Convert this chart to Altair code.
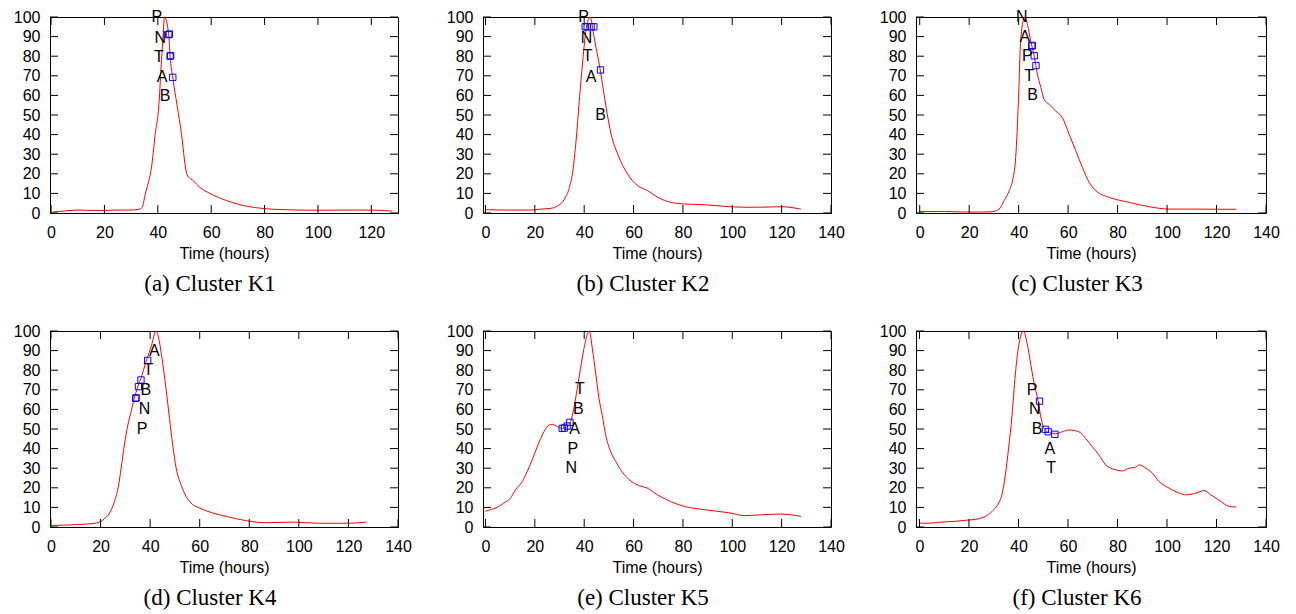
import altair as alt
import pandas as pd

# ---------------- data ----------------
K1_T = [0.5, 5, 10, 15, 20, 25, 30, 32.6, 34.2, 34.8, 35.3, 36.3, 37.6, 39, 40.5, 41.2, 42, 42.5,
        44.1, 44.6, 45.6, 47.2, 48.9, 50.4, 51.0, 53.3, 55.8, 59.5, 65.8, 70.8, 78, 87, 100, 110, 118, 127.8]
K1_V = [0.5, 1.0, 1.5, 1.3, 1.3, 1.5, 1.5, 1.8, 3, 6.3, 9.7, 14.7, 23, 40, 57, 74, 91, 100,
        91, 80, 69, 55, 40, 23, 19.5, 16.4, 13, 10, 6.3, 4.2, 2.5, 1.7, 1.4, 1.5, 1.5, 1.0]
K1_MT = [44.1, 44.3, 44.6, 44.8, 45.6]
K1_MV = [91.0, 91.3, 80.0, 80.3, 69.2]
K1_LAB = ["P", "N", "T", "A", "B"]
K1_LT = [39.6, 40.9, 40.4, 41.6, 42.7]
K1_LV = [100, 89.5, 79.8, 69.5, 59.8]

K2_T = [0.3, 10, 18.5, 22.5, 26.6, 29.3, 32, 34, 35.4, 36.7, 38, 39.4, 40.8, 42.4, 44.1, 46.5, 48.9,
        50.9, 53.6, 57.6, 61.7, 65.7, 69.8, 75.2, 80.6, 89, 96.8, 106, 113, 119.8, 127.8]
K2_V = [1.7, 1.5, 1.5, 2, 2.4, 3.7, 7.1, 13, 21.5, 36.8, 57, 77.5, 94, 100, 89, 73, 53.7,
        40.2, 30, 19.8, 13.9, 11.4, 8, 5.4, 4.6, 4.2, 3.4, 2.9, 3.0, 3.2, 2.0]
K2_MT = [40.4, 41.2, 42.8, 43.9, 46.6]
K2_MV = [95, 95, 95, 95, 73]
K2_LAB = ["P", "N", "T", "A", "B"]
K2_LT = [39.8, 40.9, 41.4, 42.8, 46.6]
K2_LV = [100, 89.5, 80, 69.5, 50]

K3_T = [0, 10, 17.3, 25, 29.4, 32.1, 34.1, 36.2, 37.5, 38.8, 39.9, 40.8, 42.2, 42.5, 43.6, 44.9, 46.3,
        47.6, 49, 50.3, 52.3, 55, 57.7, 60.4, 63.1, 65.8, 68.5, 71.2, 76.6, 84.7, 92.8, 100.9, 111.7, 119.8, 127.9]
K3_V = [0.7, 0.8, 0.5, 0.5, 0.7, 2, 6.3, 11.4, 16.4, 28.3, 57, 87.6, 99.5, 100, 96, 87.6, 80,
        70.7, 64, 58, 55.4, 52, 48.6, 40.2, 31.7, 23.2, 15.6, 11.4, 8, 5.4, 3.2, 2, 2, 1.9, 1.9]
K3_MT = [45.3, 45.5, 46.3, 47.0]
K3_MV = [85.2, 85.5, 80.2, 75.2]
K3_LAB = ["N", "A", "P", "T", "B"]
K3_LT = [41.3, 42.5, 43.5, 44.2, 45.6]
K3_LV = [100, 90, 80, 70, 60]

K4_T = [0.4, 10, 18.2, 20.2, 21.5, 23.6, 25.6, 27.3, 28.3, 29.6, 31, 32.3, 33.6, 35, 36.3, 38.3, 40.4,
        42.4, 43.5, 44.8, 46.4, 47.8, 49.1, 50.5, 52.5, 54.5, 57.2, 59.9, 65.3, 70.7, 78.8, 86.8, 97.6,
        108.4, 119.1, 127.2]
K4_V = [0.8, 1.2, 2, 2.9, 4.2, 7.1, 13, 21.5, 30, 41.9, 52, 58.8, 65.6, 71.5, 75.8, 84.2, 91.9,
        100, 96, 85.9, 70.7, 55.4, 41.9, 30, 21.5, 15.6, 11.4, 9.7, 7.1, 5.4, 3.2, 2.2, 2.5,
        1.9, 1.9, 2.5]
K4_MT = [39.0, 36.3, 35.3, 34.2, 34.3]
K4_MV = [85.0, 75.0, 71.6, 65.6, 65.9]
K4_LAB = ["A", "T", "B", "N", "P"]
K4_LT = [41.7, 39.3, 38.3, 37.7, 36.7]
K4_LV = [90, 80, 70, 60, 50]

K5_T = [0, 2, 4.7, 7.4, 10.1, 12.2, 14.9, 16.9, 18.9, 21, 23.7, 25.7, 27.1, 29.1, 31.1, 33.1, 34.5,
        35.8, 37.2, 38.5, 39.9, 42.1, 43.3, 44.6, 46, 47.3, 48.7, 50.7, 52.8, 54.8, 57.5, 61.5, 65.6,
        69.7, 75, 80.5, 85.9, 94, 99.4, 104.8, 112.9, 119.7, 127.8]
K5_V = [8, 8.8, 10, 12.2, 14.7, 19, 23.2, 28.3, 34.2, 41, 48.6, 52, 52.4, 51.2, 50.3, 51.2, 53.7,
        60.5, 70.7, 80.8, 91, 100, 91, 79, 65.6, 57, 47, 38.5, 33.4, 29.2, 25, 21.5, 19.8,
        16.4, 13, 10.5, 9.3, 8, 7.1, 5.8, 6.3, 6.6, 5.4]
K5_MT = [31.1, 32.0, 33.1, 34.2]
K5_MV = [50.3, 50.5, 51.5, 53.4]
K5_LAB = ["T", "B", "A", "P", "N"]
K5_LT = [38.3, 37.6, 36.1, 35.4, 34.8]
K5_LV = [70.5, 60, 50, 40, 30]

K6_T = [0, 3.6, 7.7, 14.4, 18.5, 23.9, 27.3, 30, 32, 33.3, 34.7, 36, 37.4, 38.7, 40.1, 42, 43.5,
        44.8, 46.2, 48, 48.9, 50.3, 51.6, 53.7, 55, 57.7, 60.4, 64.4, 67.1, 69.8, 72.5, 75.2, 79.2,
        81.9, 84.7, 87.3, 88.7, 91.4, 94.1, 96.8, 100.9, 104.9, 107.6, 111.7, 115, 117.7, 121.1,
        125.2, 127.9]
K6_V = [2, 1.9, 2.4, 2.9, 3.4, 4.2, 5.9, 8.8, 12.2, 16.4, 26.6, 40.2, 57, 77.5, 92.7, 100, 93.6,
        84.2, 74.1, 63.9, 57, 50.3, 48.6, 47.8, 47.5, 48.6, 49.5, 48.6, 45.3, 41, 36.8, 31.7, 29.2,
        28.6, 30, 30.5, 31.7, 30, 27.5, 23.2, 19.8, 17.3, 16.4, 17.3, 18.6, 16.4, 13.6,
        10.5, 10.2]
K6_MT = [48.5, 50.9, 52.0, 54.7]
K6_MV = [64.2, 49.8, 48.6, 47.3]
K6_LAB = ["P", "N", "B", "A", "T"]
K6_LT = [45.5, 46.6, 47.5, 52.7, 53.2]
K6_LV = [70, 60, 50, 40, 30]

CAPTIONS = ["(a) Cluster K1", "(b) Cluster K2", "(c) Cluster K3",
            "(d) Cluster K4", "(e) Cluster K5", "(f) Cluster K6"]
X_DOMAINS = [[-0.4, 130], [-1, 140], [-1.5, 140], [-0.4, 140], [-1, 140], [-1.4, 140]]
X_TICKS_A = [0, 20, 40, 60, 80, 100, 120]
X_TICKS = [0, 20, 40, 60, 80, 100, 120, 140]
Y_TICKS = [0, 10, 20, 30, 40, 50, 60, 70, 80, 90, 100]
WIDTHS = [348, 348, 350, 348, 348, 350]

H = 196
FONT = "Liberation Sans"
TL = 8  # inward tick length


def panel(t, v, mt, mv, labs, lt, lv, caption, xdom, xticks, W):
    xs = alt.Scale(domain=xdom, nice=False, zero=False)
    ys = alt.Scale(domain=[0, 100], nice=False, zero=False)
    xax = alt.Axis(
        values=xticks, title="Time (hours)", ticks=False, domain=False, grid=False,
        labelPadding=11, labelFlush=False, labelFontSize=16, titleFontSize=16,
        titleFontWeight="normal", titlePadding=5, labelFont=FONT, titleFont=FONT,
        labelColor="black", titleColor="black")
    yax = alt.Axis(
        values=Y_TICKS, title="", ticks=False, domain=False, grid=False,
        labelPadding=10, labelFlush=False, labelFontSize=16, labelFont=FONT,
        labelColor="black")

    def X():
        return alt.X("t:Q", scale=xs, axis=xax)

    def Y():
        return alt.Y("v:Q", scale=ys, axis=yax)

    line = alt.Chart(pd.DataFrame({"t": t, "v": v})).mark_line(
        color="#ff0000", strokeWidth=1, interpolate="monotone"
    ).encode(x=X(), y=Y())

    marks = alt.Chart(pd.DataFrame({"t": mt, "v": mv})).mark_point(
        shape="square", filled=False, color="#0000ff", size=40, strokeWidth=1, opacity=1
    ).encode(x=X(), y=Y())

    texts = alt.Chart(pd.DataFrame({"t": lt, "v": lv, "lab": labs})).mark_text(
        font=FONT, fontSize=16, color="black", align="center", baseline="middle"
    ).encode(x=X(), y=Y(), text="lab:N")

    ydf = pd.DataFrame({"v": Y_TICKS})
    yl = alt.Chart(ydf).mark_rule(color="black", strokeWidth=1).encode(
        y=Y(), x=alt.value(0), x2=alt.value(TL))
    yr = alt.Chart(ydf).mark_rule(color="black", strokeWidth=1).encode(
        y=Y(), x=alt.value(W - TL), x2=alt.value(W))
    xdf = pd.DataFrame({"t": xticks})
    xb = alt.Chart(xdf).mark_rule(color="black", strokeWidth=1).encode(
        x=X(), y=alt.value(H - TL), y2=alt.value(H))
    xt = alt.Chart(xdf).mark_rule(color="black", strokeWidth=1).encode(
        x=X(), y=alt.value(0), y2=alt.value(TL))

    return alt.layer(line, yl, yr, xb, xt, marks, texts).properties(
        width=W, height=H,
        title=alt.TitleParams(caption, orient="bottom", font="Liberation Serif",
                              fontSize=23, fontWeight="normal", color="black",
                              offset=12, dx=-14),
    )


series = [
    (K1_T, K1_V, K1_MT, K1_MV, K1_LAB, K1_LT, K1_LV),
    (K2_T, K2_V, K2_MT, K2_MV, K2_LAB, K2_LT, K2_LV),
    (K3_T, K3_V, K3_MT, K3_MV, K3_LAB, K3_LT, K3_LV),
    (K4_T, K4_V, K4_MT, K4_MV, K4_LAB, K4_LT, K4_LV),
    (K5_T, K5_V, K5_MT, K5_MV, K5_LAB, K5_LT, K5_LV),
    (K6_T, K6_V, K6_MT, K6_MV, K6_LAB, K6_LT, K6_LV),
]

panels = []
for i, s in enumerate(series):
    ticks = X_TICKS_A if i == 0 else X_TICKS
    panels.append(panel(*s, CAPTIONS[i], X_DOMAINS[i], ticks, WIDTHS[i]))

chart = alt.concat(*panels, columns=3, spacing={"row": 118, "column": 85},
                   bounds="flush", align="each").configure(
    padding={"left": 4, "top": 0, "right": 5, "bottom": 5},
    background="white",
).configure_view(stroke="black", strokeWidth=1)

chart.save("out.html", embed_options={"renderer": "svg", "actions": False})
